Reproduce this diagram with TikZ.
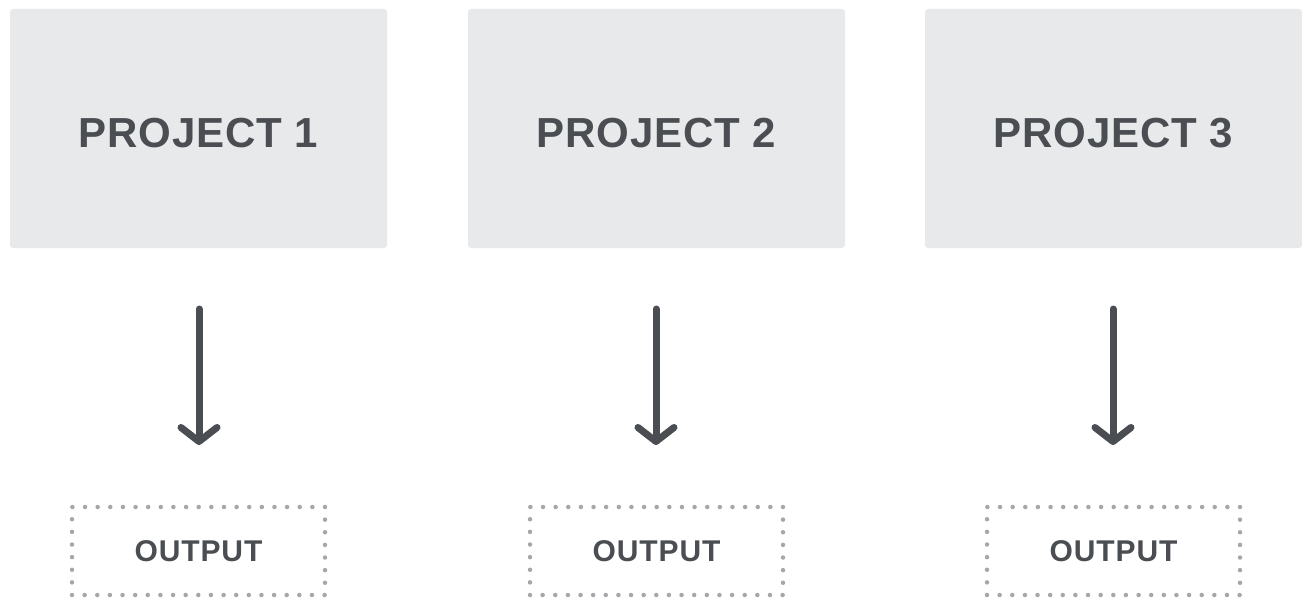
\documentclass[tikz,border=0pt]{standalone}
\usepackage{fontspec}
\setmainfont{Liberation Sans}
\usetikzlibrary{arrows.meta}
\definecolor{boxgray}{HTML}{E8E9EB}
\definecolor{inkgray}{HTML}{4A4D51}
\definecolor{dotgray}{HTML}{A5A8AB}

\begin{document}
\begin{tikzpicture}[x=1pt, y=-1pt]
\tikzset{projbox/.style={fill=boxgray, rounded corners=3pt, minimum width=377pt, minimum height=239pt,
    inner sep=0pt, text=inkgray, text height=38pt, text depth=0pt,
    font=\addfontfeatures{LetterSpace=2}\fontsize{42}{42}\selectfont\bfseries},
  outbox/.style={draw=dotgray, line width=4.5pt, line cap=round, dash pattern=on 0pt off 12.63pt,
    minimum width=253pt, minimum height=88pt, inner sep=0pt, text=inkgray,
    font=\addfontfeatures{LetterSpace=3}\fontsize{30}{30}\selectfont\bfseries},
  flow/.style={draw=inkgray, line width=7pt, line cap=round, -{Straight Barb[length=14pt, width=36pt, round]}}}
\useasboundingbox (0,0) rectangle (1302,599);
\node[projbox] (P1) at (198.5,128.5) {PROJECT 1};
\node[projbox] (P2) at (656.5,128.5) {PROJECT 2};
\node[projbox] (P3) at (1113.5,128.5) {PROJECT 3};
\node[outbox] (O1) at (198.5,551) {OUTPUT};
\node[outbox] (O2) at (656.5,551) {OUTPUT};
\node[outbox] (O3) at (1113.5,551) {OUTPUT};
\coordinate (A1) at (199,309);
\coordinate (A2) at (656,309);
\coordinate (A3) at (1113,309);
\coordinate (B1) at (199,445);
\coordinate (B2) at (656,445);
\coordinate (B3) at (1113,445);
\draw[flow] (A1) -- (B1);
\draw[flow] (A2) -- (B2);
\draw[flow] (A3) -- (B3);
\end{tikzpicture}
\end{document}
